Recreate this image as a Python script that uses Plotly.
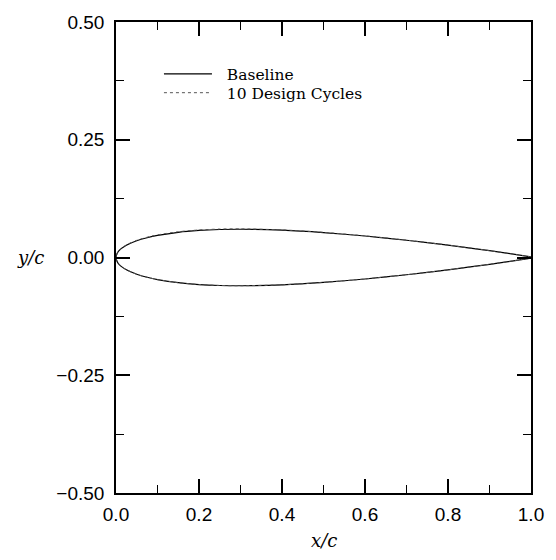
import plotly.graph_objects as go

# Baseline airfoil (upper surface from TE to LE, then lower surface from LE to TE)
x_stations = [1.0, 0.95, 0.9, 0.8, 0.7, 0.6, 0.5, 0.4, 0.3, 0.25, 0.2, 0.15, 0.1, 0.075,
              0.05, 0.025, 0.0125, 0.005, 0.0]
base_upper = [0.0013, 0.0081, 0.0145, 0.0262, 0.0366, 0.0456, 0.0529, 0.0580, 0.0600, 0.0594,
              0.0574, 0.0535, 0.0468, 0.0420, 0.0356, 0.0262, 0.0189, 0.0122, 0.0]
base_lower = [-0.0013, -0.0081, -0.0145, -0.0262, -0.0366, -0.0456, -0.0529, -0.0580, -0.0600,
              -0.0594, -0.0574, -0.0535, -0.0468, -0.0420, -0.0356, -0.0262, -0.0189, -0.0122, 0.0]
# 10 design cycles (upper slightly fuller near the front, lower unchanged)
design_upper = [0.0013, 0.0081, 0.0146, 0.0264, 0.0369, 0.0460, 0.0534, 0.0587, 0.0608, 0.0604,
                0.0585, 0.0547, 0.0480, 0.0431, 0.0365, 0.0268, 0.0193, 0.0124, 0.0]
design_lower = base_lower

x_ticks = [0.0, 0.2, 0.4, 0.6, 0.8, 1.0]
y_ticks = [-0.50, -0.25, 0.00, 0.25, 0.50]

bx = x_stations + x_stations[::-1][1:]
by = base_upper + base_lower[::-1][1:]
dx = x_stations + x_stations[::-1][1:]
dy = design_upper + design_lower[::-1][1:]

fig = go.Figure()
fig.add_trace(go.Scatter(x=bx, y=by, mode="lines", name="\u00a0\u00a0Baseline", legend="legend",
                         line=dict(color="black", width=1.2, shape="spline", smoothing=0.6)))
fig.add_trace(go.Scatter(x=dx, y=dy, mode="lines", name="\u00a0\u00a010 Design Cycles",
                         legend="legend2",
                         line=dict(color="#555555", width=1.0, dash="dot", shape="spline",
                                   smoothing=0.6)))

tickfont = dict(family="Liberation Sans, Arial, sans-serif", size=19, color="black")
common = dict(showline=True, linecolor="black", linewidth=1.6, mirror="allticks",
              ticks="inside", ticklen=14, tickwidth=1.6, tickcolor="black",
              showgrid=False, zeroline=False, tickfont=tickfont)

fig.update_xaxes(range=[0, 1], tickvals=x_ticks, tickformat=".1f", ticklabelstandoff=3,
                 minor=dict(dtick=0.1, tick0=0, ticks="inside", ticklen=8, tickwidth=1.3,
                            tickcolor="black"), **common)
fig.update_yaxes(range=[-0.5, 0.5], tickvals=y_ticks, tickformat=".2f", ticklabelstandoff=6,
                 minor=dict(dtick=0.125, tick0=0, ticks="inside", ticklen=8, tickwidth=1.3,
                            tickcolor="black"), **common)

serif = "DejaVu Serif, Liberation Serif, serif"
fig.add_annotation(text="<i>x/c</i>", xref="paper", yref="paper", x=0.5, y=-0.10,
                   showarrow=False, font=dict(family=serif, size=18, color="black"),
                   xanchor="center", yanchor="middle")
fig.add_annotation(text="<i>y/c</i>", xref="paper", yref="paper", x=-0.205, y=0.5,
                   showarrow=False, font=dict(family=serif, size=18, color="black"),
                   xanchor="center", yanchor="middle")

legfont = dict(family=serif, size=15.5, color="black")
fig.update_layout(
    width=556, height=560,
    margin=dict(l=116, r=15, t=15, b=67),
    plot_bgcolor="white", paper_bgcolor="white",
    showlegend=True,
    legend=dict(x=0.1035, y=0.889, xanchor="left", yanchor="middle",
                bgcolor="rgba(0,0,0,0)", borderwidth=0, itemwidth=48, font=legfont),
    legend2=dict(x=0.1035, y=0.849, xanchor="left", yanchor="middle",
                 bgcolor="rgba(0,0,0,0)", borderwidth=0, itemwidth=48, font=legfont),
)

fig.write_html("out.html")
